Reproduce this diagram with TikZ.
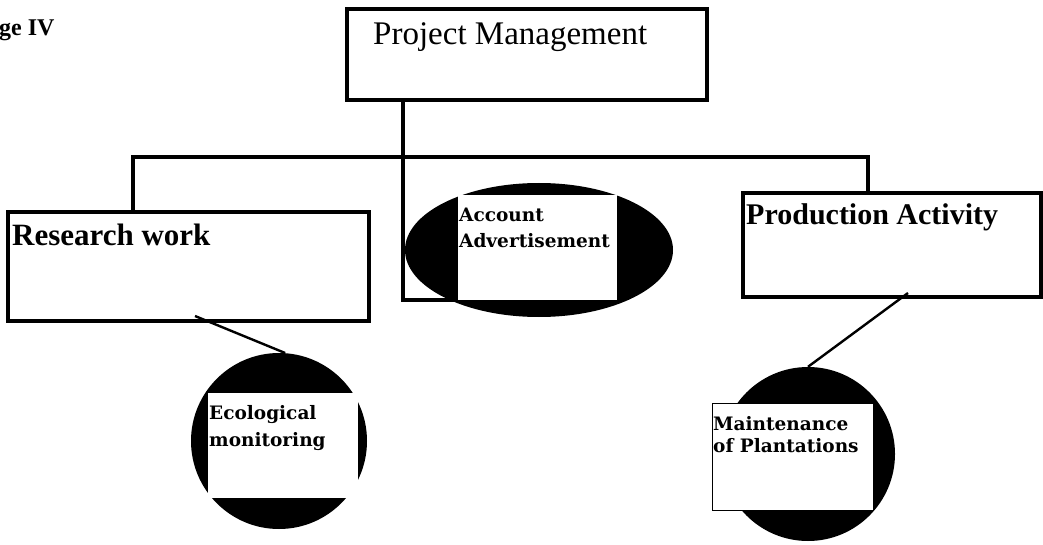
\documentclass[tikz,border=0pt]{standalone}
\usepackage{fontspec}
\setmainfont{Liberation Serif}
\newfontfamily\cardfont{DejaVu Serif}
\usetikzlibrary{shapes.geometric}

\begin{document}
\begin{tikzpicture}[x=1pt,y=-1pt,
  box/.style={draw, line width=3.8pt, rectangle, inner sep=0pt},
  blob/.style={fill=black, inner sep=0pt},
  card/.style={draw, line width=1pt, fill=white, rectangle, inner sep=0pt},
  txt/.style={inner sep=0pt, align=left}]
  \useasboundingbox (0,0) rectangle (1043,545);

  \node[txt, anchor=base west, font=\bfseries\fontsize{24}{28}\selectfont] at (-1,36) (stage) {ge IV};

  % the three boxes
  \node[box, minimum width=360pt, minimum height=91pt] at (527,54.5) (pm) {};
  \node[box, minimum width=361pt, minimum height=109pt] at (188.5,266.5) (rw) {};
  \node[box, minimum width=298pt, minimum height=104pt] at (892,245) (pr) {};

  \coordinate (barL) at (133,157);
  \coordinate (barR) at (868,157);
  \coordinate (acctL) at (403,300);
  \coordinate (acctfoot) at (458,300);
  \coordinate (rwtap) at (195,316);
  \coordinate (prtap) at (908,293);

  \draw[line width=3.3pt] (rw.north -| barL) -- (barL) -- (barR) -- (pr.north -| barR);
  \draw[line width=3.3pt] (pm.south -| acctL) -- (acctL) -- (acctfoot);

  % ovals with their cards
  \node[blob, ellipse, minimum width=268pt, minimum height=134pt] at (539,250) (acctoval) {};
  \node[card, draw=none, minimum width=159pt, minimum height=105pt] at (537.5,247.5) (acct) {};

  \node[blob, circle, minimum size=176pt] at (279,441) (ecoball) {};
  \node[card, draw=none, minimum width=150pt, minimum height=105pt] at (283,445.5) (eco) {};

  \node[blob, circle, minimum size=174pt] at (808,454) (mainball) {};
  \node[card, minimum width=161pt, minimum height=107pt] at (792.5,456.5) (main) {};

  \draw[line width=2.4pt] (rwtap) -- (ecoball.86);
  \draw[line width=2.4pt] (prtap) -- (mainball.north);

  % labels
  \node[txt, anchor=base west, font=\fontsize{33}{38}\selectfont] at (373,45) (pmtext) {Project Management};
  \node[txt, anchor=base west, font=\bfseries\fontsize{31}{36}\selectfont] at (12,245) (rwtext) {Research work};
  \node[txt, anchor=base west, font=\bfseries\fontsize{30}{36}\selectfont] at (746,225) (prtext) {Production Activity};
  \node[txt, anchor=north west, font=\cardfont\bfseries\fontsize{18.5}{26}\selectfont] at (459,208) (accttext) {Account\\Advertisement};
  \node[txt, anchor=north west, font=\cardfont\bfseries\fontsize{18.5}{27}\selectfont] at (209,405) (ecotext) {Ecological\\monitoring};
  \node[txt, anchor=north west, font=\cardfont\bfseries\fontsize{18.5}{22}\selectfont] at (713,416) (maintext) {Maintenance\\of Plantations};
\end{tikzpicture}
\end{document}
